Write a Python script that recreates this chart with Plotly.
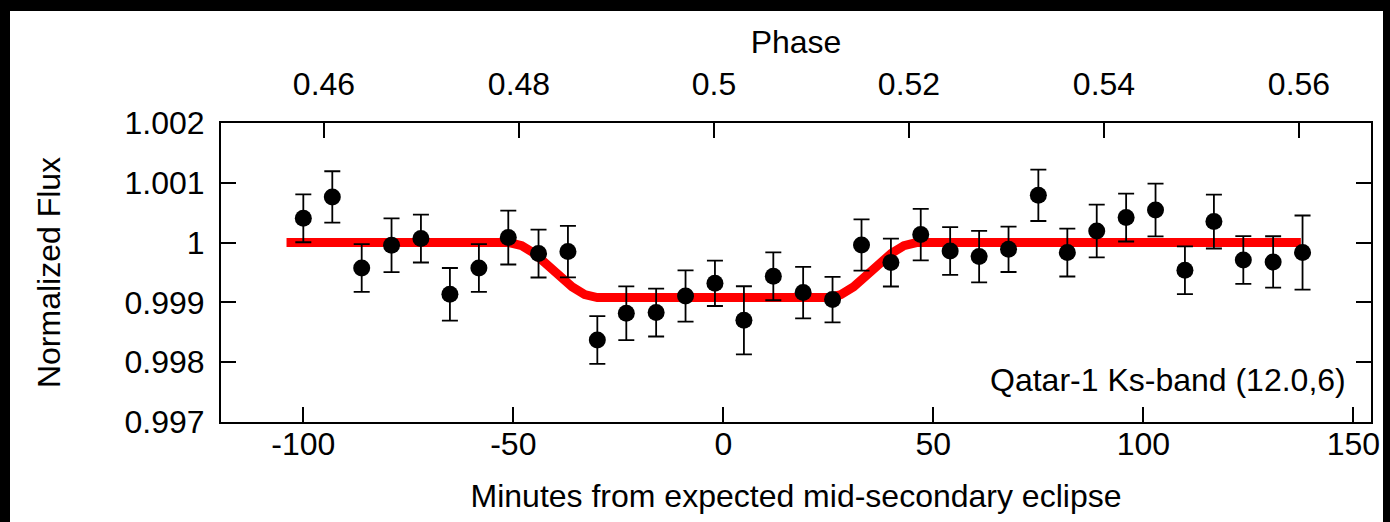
import plotly.graph_objects as go

# ---- data ----
minutes = [-100.0, -93.1, -86.1, -79.0, -72.0, -65.1, -58.2, -51.2, -44.0, -37.0,
           -30.0, -23.1, -16.0, -9.0, -2.0, 4.9, 11.9, 19.0, 26.0, 32.9,
           39.9, 47.0, 54.0, 60.9, 67.9, 75.0, 81.9, 88.9, 95.9, 102.9,
           109.9, 116.8, 123.8, 130.9, 137.9]
flux = [1.000406, 1.000763, 0.999575, 0.999955, 1.000067, 0.999135, 0.999575, 1.000084, 0.999816, 0.999850,
        0.998371, 0.998818, 0.998830, 0.999107, 0.999320, 0.998700, 0.999436, 0.999164, 0.999047, 0.999960,
        0.999666, 1.000134, 0.999860, 0.999766, 0.999888, 1.000791, 0.999833, 1.000194, 1.000418, 1.000545,
        0.999537, 1.000351, 0.999709, 0.999676, 0.999833]
flux_err = [0.00040, 0.00043, 0.00040, 0.00045, 0.00040, 0.00044, 0.00040, 0.00045, 0.00040, 0.00043,
            0.00040, 0.00045, 0.00040, 0.00043, 0.00038, 0.00057, 0.00040, 0.00043, 0.00038, 0.00043,
            0.00040, 0.00043, 0.00040, 0.00043, 0.00038, 0.00043, 0.00040, 0.00044, 0.00040, 0.00044,
            0.00040, 0.00045, 0.00040, 0.00043, 0.00062]

model_minutes = [-104.0, -51.0, -48.0, -45.0, -40.5, -36.0, -33.0, -30.0,
                 25.0, 28.0, 31.0, 35.5, 40.0, 43.0, 46.0, 137.5]
model_flux = [1.0, 1.0, 0.99995, 0.99982, 0.99954, 0.99926, 0.99913, 0.99908,
              0.99908, 0.99913, 0.99926, 0.99954, 0.99982, 0.99995, 1.0, 1.0]

x_ticks = [-100, -50, 0, 50, 100, 150]
x_tick_text = ["-100", "-50", "0", "50", "100", "150"]
y_ticks = [0.997, 0.998, 0.999, 1.0, 1.001, 1.002]
y_tick_text = ["0.997", "0.998", "0.999", "1", "1.001", "1.002"]
phase_ticks = [0.46, 0.48, 0.50, 0.52, 0.54, 0.56]
phase_tick_text = ["0.46", "0.48", "0.5", "0.52", "0.54", "0.56"]

label_text = "Qatar-1 Ks-band (12.0,6)"

FONT = "Liberation Sans, Arial, sans-serif"
TICK_FS = 32
TITLE_FS = 32

fig = go.Figure()
fig.add_trace(go.Scatter(x=model_minutes, y=model_flux, mode="lines",
                         line=dict(color="#ff0000", width=9), showlegend=False,
                         hoverinfo="skip"))
fig.add_trace(go.Scatter(x=minutes, y=flux, mode="markers",
                         marker=dict(color="black", size=17),
                         error_y=dict(type="data", array=flux_err, color="black",
                                      thickness=1.8, width=8),
                         showlegend=False))
# phase axis carrier
fig.add_trace(go.Scatter(x=phase_ticks, y=[None] * len(phase_ticks), xaxis="x2",
                         mode="markers", showlegend=False, hoverinfo="skip"))

axis_common = dict(showgrid=False, zeroline=False, showline=True, linecolor="black",
                   linewidth=2, ticks="inside", ticklen=15, tickwidth=1.8,
                   tickcolor="black", automargin=False,
                   tickfont=dict(family=FONT, size=TICK_FS, color="black"))

fig.update_layout(
    width=1390, height=522,
    margin=dict(l=221, r=19, t=123, b=100),
    paper_bgcolor="black",
    plot_bgcolor="white",
    font=dict(family=FONT, size=TICK_FS, color="black"),
    xaxis=dict(range=[-119.6, 154.2], tickvals=x_ticks, ticktext=x_tick_text, mirror=True,
               ticklabelstandoff=-7,
               title=dict(text="Minutes from expected mid-secondary eclipse",
                          font=dict(family=FONT, size=TITLE_FS), standoff=23),
               **axis_common),
    xaxis2=dict(overlaying="x", side="top", range=[0.449436, 0.567385],
                tickvals=phase_ticks, ticktext=phase_tick_text, ticklabelstandoff=13,
                title=dict(text="Phase", font=dict(family=FONT, size=TITLE_FS), standoff=3),
                **axis_common),
    yaxis=dict(range=[0.997, 1.002], tickvals=y_ticks, ticktext=y_tick_text,
               mirror="ticks", ticklabelstandoff=8,
               title=dict(text="Normalized Flux", font=dict(family=FONT, size=TITLE_FS), standoff=54),
               **axis_common),
    shapes=[dict(type="rect", xref="paper", yref="paper", layer="below",
                 x0=(10 - 221) / 1150, x1=(1383 - 221) / 1150,
                 y0=-0.5, y1=(422 - 11) / 299,
                 fillcolor="white", line=dict(width=0))],
    annotations=[dict(text=label_text, xref="paper", yref="paper",
                      x=(1348 - 221) / 1150, y=(422 - 380) / 299,
                      xanchor="right", yanchor="middle", showarrow=False,
                      font=dict(family=FONT, size=TICK_FS, color="black"))],
)

fig.write_html("out.html", config={"displayModeBar": False},
               post_script="document.body.style.margin='0';")
